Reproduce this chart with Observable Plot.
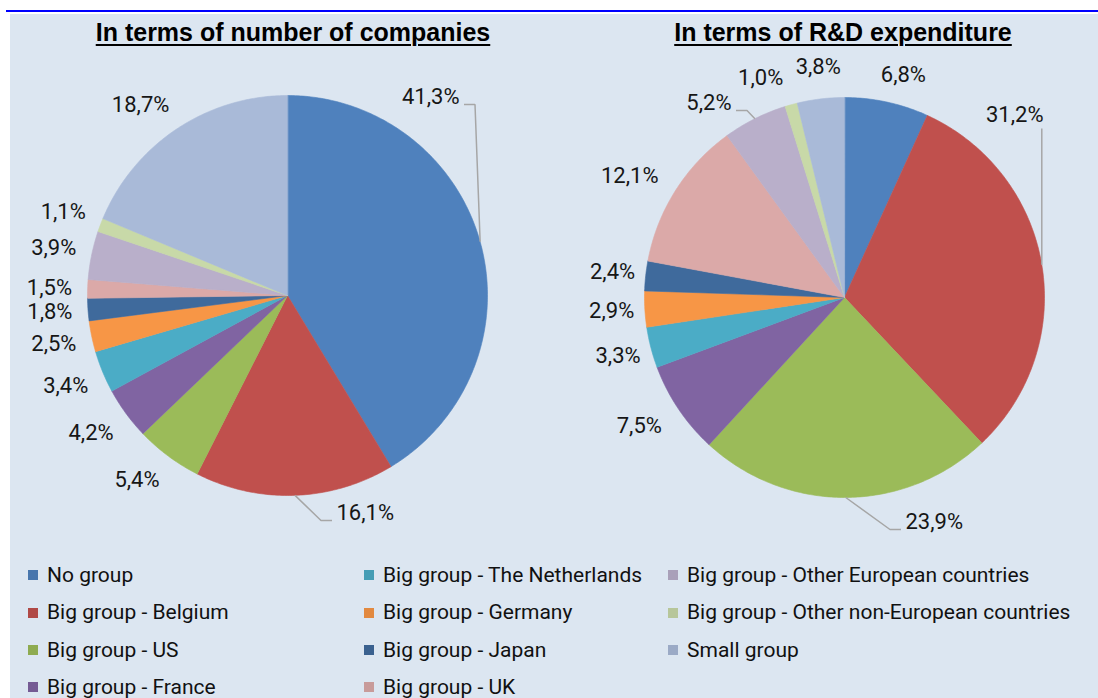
<!DOCTYPE html>
<html><head><meta charset="utf-8">
<script src="https://cdn.jsdelivr.net/npm/d3@7"></script>
<script src="https://cdn.jsdelivr.net/npm/@observablehq/plot@0.6"></script>
<style>
html,body{margin:0;padding:0;background:#fff;}
#page{position:relative;width:1098px;height:698px;overflow:hidden;}
#rule{position:absolute;left:6px;top:10px;width:1092px;height:2px;background:#0000ff;}
#panel{position:absolute;left:10px;top:14px;width:1088px;height:684px;background:#dce6f1;}
.title{position:absolute;top:17px;width:520px;text-align:center;font:bold 25px "Liberation Sans",Arial,sans-serif;text-decoration:underline;text-decoration-thickness:2px;text-underline-offset:3px;color:#000;line-height:30px;white-space:nowrap;}
#chart{position:absolute;left:0;top:50px;}
#legend{position:absolute;left:0;top:564px;width:1098px;height:134px;font-family:Roboto,sans-serif;font-size:21px;color:#111;}
.item{position:absolute;height:23px;line-height:23px;white-space:nowrap;}
.sw{display:inline-block;width:10px;height:10px;margin-right:9px;vertical-align:middle;position:relative;top:-1px;}
</style></head>
<body>
<div id="page">
  <div id="rule"></div>
  <div id="panel"></div>
  <div class="title" id="t1" style="left:33px">In terms of number of companies</div>
  <div class="title" id="t2" style="left:583px">In terms of R&amp;D expenditure</div>
  <div id="chart"></div>
  <div id="legend"></div>
</div>
<script>
// ---- data ----
const categories = [
  "No group",
  "Big group - Belgium",
  "Big group - US",
  "Big group - France",
  "Big group - The Netherlands",
  "Big group - Germany",
  "Big group - Japan",
  "Big group - UK",
  "Big group - Other European countries",
  "Big group - Other non-European countries",
  "Small group"
];
const companiesShare = [41.3, 16.1, 5.4, 4.2, 3.4, 2.5, 1.8, 1.5, 3.9, 1.1, 18.7];
const rdShare = [6.8, 31.2, 23.9, 7.5, 3.3, 2.9, 2.4, 12.1, 5.2, 1.0, 3.8];
const sliceColors = ["#4f81bd","#c0504d","#9bbb59","#8064a2","#4bacc6","#f79646",
                     "#3f6a9c","#dba9a8","#b9afca","#c8d9a8","#a9bad8"];

// ---- layout ----
const W = 1098, H = 500, R = 200;
const pies = [
  {name: "companies", values: companiesShare, cx: 287, cy: 245, gap: 17,
   nudge: {},
   callouts: {0: {dx: 172, dy: -199, anchor: "end"}, 1: {dx: 49, dy: 217, anchor: "start"}}},
  {name: "rd", values: rdShare, cx: 844, cy: 247, gap: 12,
   nudge: {0: [5, -5], 3: [-8, 0], 7: [-9, 2], 9: [-16, -5], 10: [4, -10]},
   callouts: {1: {dx: 199, dy: -183, anchor: "end", vertical: true},
              2: {dx: 61, dy: 224, anchor: "start"},
              8: {dx: -113, dy: -195, anchor: "end"}}}
];
const fmt = v => d3.format(".1f")(v).replace(".", ",") + "%";
const clamp = v => Math.max(-1, Math.min(1, v));

const slicePts = [], leaderPts = [], labels = [];
pies.forEach(p => {
  const arcs = d3.pie().sort(null)(p.values);
  arcs.forEach((a, i) => {
    const id = p.name + "-" + i, color = sliceColors[i];
    slicePts.push({id, x: p.cx, y: p.cy, color});
    const n = Math.max(2, Math.ceil((a.endAngle - a.startAngle) / (Math.PI / 240)));
    for (let k = 0; k <= n; k++) {
      const t = a.startAngle + (a.endAngle - a.startAngle) * k / n;
      slicePts.push({id, x: p.cx + R * Math.sin(t), y: p.cy - R * Math.cos(t), color});
    }
    const m = (a.startAngle + a.endAngle) / 2, s = Math.sin(m), c = Math.cos(m);
    const text = fmt(p.values[i]);
    const co = p.callouts[i];
    if (co) {
      const lx = p.cx + co.dx, ly = p.cy + co.dy;
      labels.push({x: lx, y: ly, text, anchor: co.anchor});
      const ex = p.cx + R * s, ey = p.cy - R * c;
      const lid = "lead-" + id;
      if (co.vertical) {
        leaderPts.push({id: lid, x: ex, y: ly + 14}, {id: lid, x: ex, y: ey});
      } else {
        const dir = co.anchor === "end" ? 1 : -1;
        const sx = lx + dir * 4.5, by = ly + 8;
        leaderPts.push({id: lid, x: sx, y: by}, {id: lid, x: sx + dir * 11, y: by}, {id: lid, x: ex, y: ey});
      }
    } else {
      const hw = text.length * 5.3, hh = 10;
      const nd = p.nudge[i] || [0, 0];
      const px = p.cx + (R + p.gap) * s, py = p.cy - (R + p.gap) * c;
      labels.push({x: px + hw * clamp(2 * s) + nd[0], y: py - hh * clamp(2 * c) + nd[1], text, anchor: "middle"});
    }
  });
});

const labelStyle = {x: "x", y: "y", text: "text", fontSize: 22, fill: "#161616"};
const chart = Plot.plot({
  width: W, height: H, margin: 0,
  x: {domain: [0, W], range: [0, W], axis: null},
  y: {domain: [0, H], range: [0, H], axis: null},
  color: {type: "identity"},
  style: {background: "transparent", fontFamily: "Roboto, sans-serif", overflow: "visible"},
  marks: [
    Plot.line(slicePts, {x: "x", y: "y", z: "id", fill: "color", stroke: "color", strokeWidth: 0.6, curve: "linear-closed"}),
    Plot.line(leaderPts, {x: "x", y: "y", z: "id", stroke: "#a6a6a6", strokeWidth: 1.5, strokeLinecap: "butt", strokeLinejoin: "miter"}),
    Plot.text(labels.filter(d => d.anchor === "middle"), {...labelStyle, textAnchor: "middle"}),
    Plot.text(labels.filter(d => d.anchor === "start"), {...labelStyle, textAnchor: "start"}),
    Plot.text(labels.filter(d => d.anchor === "end"), {...labelStyle, textAnchor: "end"})
  ]
});
document.getElementById("chart").appendChild(chart);

// ---- legend (column-major, 4 rows) ----
const colX = [28, 364, 668], rowH = 37.3;
const legend = document.getElementById("legend");
categories.forEach((name, i) => {
  const col = Math.floor(i / 4), row = i % 4;
  const el = document.createElement("div");
  el.className = "item";
  el.style.left = colX[col] + "px";
  el.style.top = (row * rowH) + "px";
  const sw = document.createElement("span");
  sw.className = "sw";
  sw.style.background = d3.color(sliceColors[i]).darker(0.25).formatHex();
  el.appendChild(sw);
  el.appendChild(document.createTextNode(name));
  legend.appendChild(el);
});
</script>
</body></html>
